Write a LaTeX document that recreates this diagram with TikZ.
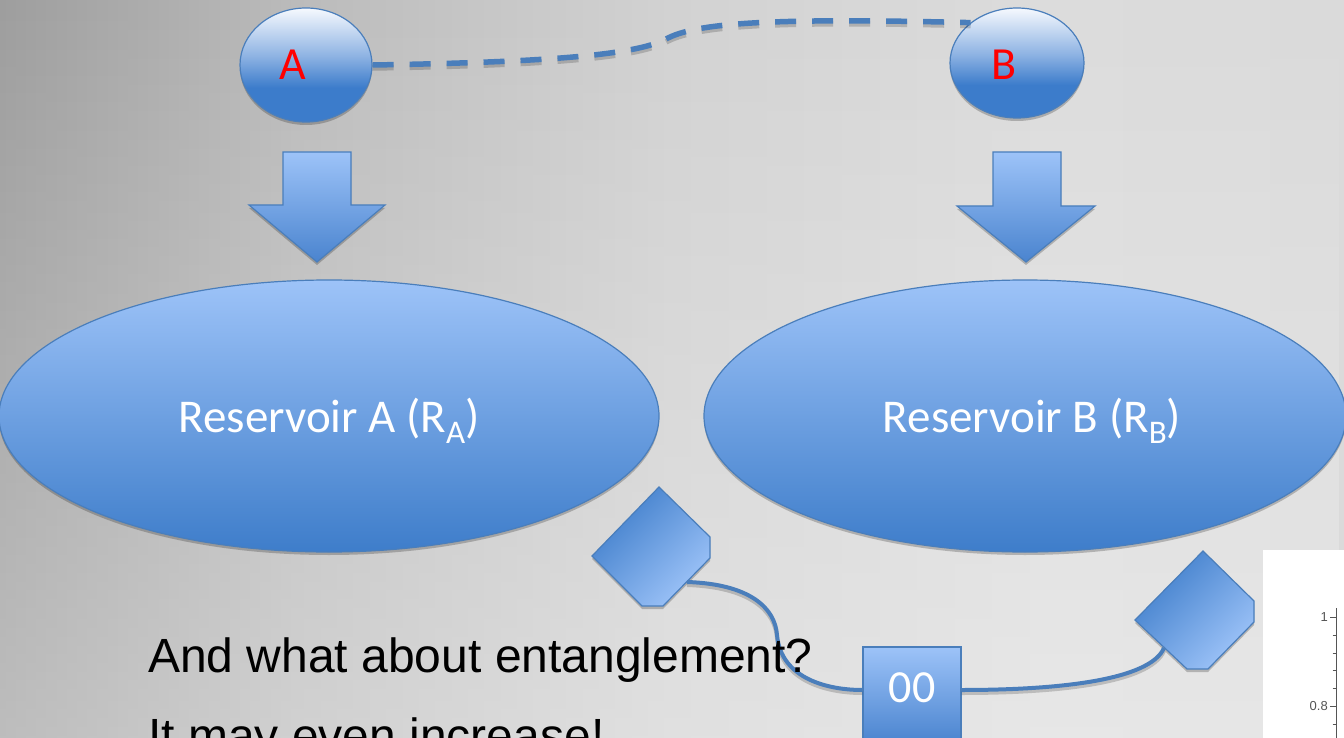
\documentclass[tikz,border=0pt]{standalone}
\usepackage{fontspec}
\setmainfont{Carlito}
\newfontfamily\arialf{Liberation Sans}
\usetikzlibrary{shapes.geometric,shadows,fadings}

\definecolor{bord}{HTML}{4A7EBB}
\definecolor{g0}{HTML}{9E9E9E}
\definecolor{g1}{HTML}{BBBBBB}
\definecolor{g2}{HTML}{D2D2D2}
\definecolor{g3}{HTML}{DCDCDC}
\definecolor{g4}{HTML}{DADADA}
\definecolor{s1}{HTML}{F6F9FE}
\definecolor{s2}{HTML}{8EB3E3}
\definecolor{s3}{HTML}{3C7CCB}
\definecolor{lightb}{HTML}{9DC3F8}
\definecolor{darkb}{HTML}{3E7DCA}
\definecolor{arrb}{HTML}{4A84CF}
\definecolor{chartc}{HTML}{555555}

\pgfdeclarehorizontalshading{bgsh}{100bp}{color(0bp)=(g0); color(25bp)=(g0); color(36bp)=(g1); color(50bp)=(g2); color(64bp)=(g3); color(75bp)=(g4); color(100bp)=(g4)}
\pgfdeclareverticalshading{smallsh}{100bp}{color(0bp)=(s3); color(25bp)=(s3); color(40bp)=(s3); color(54bp)=(s2); color(75bp)=(s1); color(100bp)=(s1)}

\tikzset{
  shad/.style={drop shadow={shadow xshift=0pt, shadow yshift=-3pt, opacity=0.22, fill=black}},
  smallell/.style={ellipse, draw=bord, line width=1.2pt, shading=smallsh, inner sep=0pt, shad},
  lbl/.style={text=red, font=\fontsize{46pt}{54pt}\selectfont, inner sep=0pt, anchor=base},
  bigell/.style={ellipse, draw=bord, line width=1.2pt, top color=lightb, bottom color=darkb,
     inner sep=0pt, text=white, font=\fontsize{47pt}{56pt}\selectfont,
     text height=40pt, text depth=8pt, minimum height=272pt, shad},
  arrowsh/.style={draw=bord, line width=1.2pt, top color=lightb, bottom color=arrb, shad},
  diam/.style={draw=bord, line width=1.2pt, left color=darkb, right color=lightb, shading angle=45, shad},
  boxsh/.style={rectangle, draw=bord, line width=1.2pt, top color=lightb, bottom color=arrb,
     minimum width=98pt, minimum height=96pt, inner sep=0pt, text=white,
     font=\fontsize{46pt}{54pt}\selectfont, text height=20pt, text depth=6pt, shad},
  conn/.style={bord, line width=4pt},
  dconn/.style={bord, line width=5.5pt, dash pattern=on 21pt off 16pt},
  connshadow/.style={black, opacity=0.18, transform canvas={yshift=-3pt}},
  bodytext/.style={font=\arialf\fontsize{48pt}{58pt}\selectfont, text=black, inner sep=0pt, anchor=base west},
  chartlbl/.style={font=\arialf\fontsize{13pt}{15pt}\selectfont, text=chartc, inner sep=0pt, anchor=east}
}

\begin{document}
\begin{tikzpicture}[x=1pt,y=-1pt]
\path[use as bounding box] (0,0) rectangle (1344,738);
\clip (0,0) rectangle (1344,738);
% background
\shade[shading=bgsh] (0,0) rectangle (1344,738);
\fill[white, opacity=0.32, path fading=north] (0,0) rectangle (1344,738);

% top ellipses
\node[smallell, minimum width=132pt, minimum height=114pt] (A) at (306,65) {};
\node[smallell, minimum width=134pt, minimum height=110pt] (B) at (1017,63) {};
\node[lbl] (Alab) at (293,80) {A};
\node[lbl] (Blab) at (1004,80) {B};

% dashed connector
\draw[dconn, connshadow] (A.east) .. controls (560,62) and (640,54) .. (668,38) .. controls (700,22) and (780,18) .. (B.139);
\draw[dconn] (A.east) .. controls (560,62) and (640,54) .. (668,38) .. controls (700,22) and (780,18) .. (B.139);

% down arrows
\path[arrowsh] (283,152) -- (351,152) -- (351,205) -- (385,205) -- (317,262) -- (249,205) -- (283,205) -- cycle;
\path[arrowsh] (993,152) -- (1061,152) -- (1061,206) -- (1095,206) -- (1026,262) -- (957,206) -- (993,206) -- cycle;

% reservoirs
\node[bigell, minimum width=660pt] (RA) at (329,416) {Reservoir A (R\raisebox{-11pt}{\fontsize{33pt}{33pt}\selectfont A})};
\node[bigell, minimum width=642pt] (RB) at (1025,416) {\hspace*{14pt}Reservoir B (R\raisebox{-11pt}{\fontsize{33pt}{33pt}\selectfont B})};

% diamonds
\path[diam] (659,487) -- (710,537) -- (710,558) -- (663,606) -- (642,606) -- (592,556) -- cycle;
\path[diam] (1203,551) -- (1254,601) -- (1254,622) -- (1208,669) -- (1187,669) -- (1135,620) -- cycle;
\coordinate (dA) at (687,582);
\coordinate (dB) at (1164,648);

% chart fragment
\fill[white] (1263,550) rectangle (1344,738);
\draw[chartc, line width=1pt] (1336,608) -- (1336,738);
\foreach \yy in {617,706} {\draw[chartc, line width=0.9pt] (1330,\yy) -- (1336,\yy);}
\foreach \yy in {635,653,670,688,724} {\draw[chartc, line width=0.9pt] (1332.5,\yy) -- (1336,\yy);}
\node[chartlbl] (tone) at (1328,617) {1};
\node[chartlbl] (teight) at (1328,706) {0.8};

% 00 box
\node[boxsh] (box) at (912,695) {00};

% curved connectors
\draw[conn, connshadow] (dA) .. controls (750,584) and (775,608) .. (777,635) .. controls (781,680) and (830,690) .. ([yshift=5pt]box.west);
\draw[conn] (dA) .. controls (750,584) and (775,608) .. (777,635) .. controls (781,680) and (830,690) .. ([yshift=5pt]box.west);
\draw[conn, connshadow] ([yshift=5pt]box.east) .. controls (1060,690) and (1150,680) .. (dB);
\draw[conn] ([yshift=5pt]box.east) .. controls (1060,690) and (1150,680) .. (dB);

% body text
\node[bodytext] (q1) at (148,672) {And what about entanglement?};
\node[bodytext] (q2) at (148,752) {It may even increase!};
\end{tikzpicture}
\end{document}
